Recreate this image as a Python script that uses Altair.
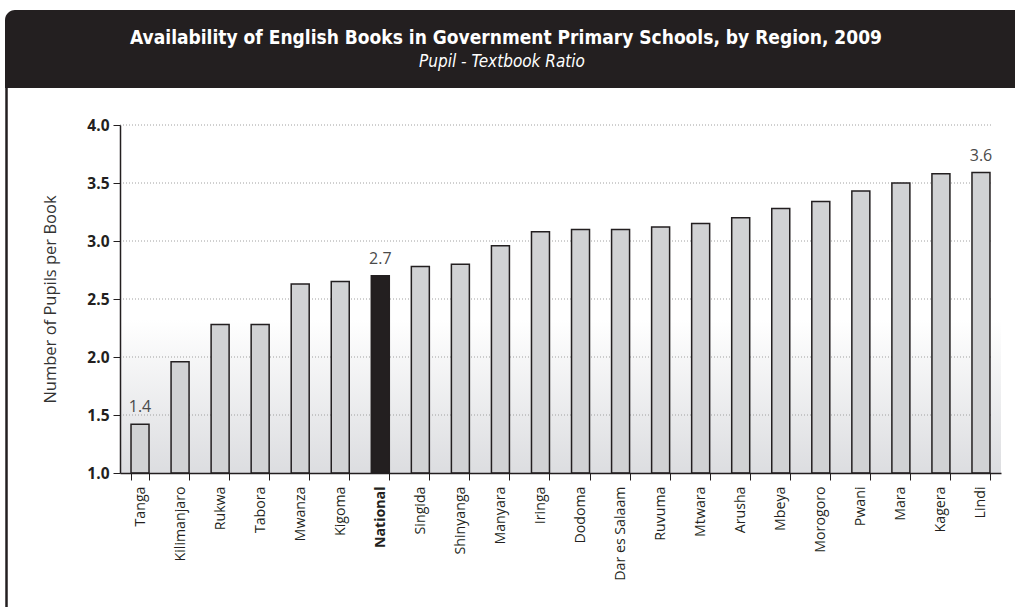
import altair as alt
import pandas as pd

regions = ["Tanga", "Kilimanjaro", "Rukwa", "Tabora", "Mwanza", "Kigoma", "National",
           "Singida", "Shinyanga", "Manyara", "Iringa", "Dodoma", "Dar es Salaam", "Ruvuma",
           "Mtwara", "Arusha", "Mbeya", "Morogoro", "Pwani", "Mara", "Kagera", "Lindi"]
ratios = [1.42, 1.96, 2.28, 2.28, 2.63, 2.65, 2.70, 2.78, 2.80, 2.96, 3.08, 3.10, 3.10,
          3.12, 3.15, 3.20, 3.28, 3.34, 3.43, 3.50, 3.58, 3.59]
value_labels = ["1.4", "", "", "", "", "", "2.7", "", "", "", "", "", "", "", "", "", "",
                "", "", "", "", "3.6"]
y_ticks = [1.0, 1.5, 2.0, 2.5, 3.0, 3.5, 4.0]

title_text = "Availability of English Books in Government Primary Schools, by Region, 2009"
subtitle_text = "Pupil - Textbook Ratio"

W, H = 881, 348
PAD_L, PAD_T, PAD_R, PAD_B = 120, 125, 14, 134

df = pd.DataFrame({
    "region": regions,
    "ratio": ratios,
    "label": value_labels,
    "is_nat": [r == "National" for r in regions],
})
grid_df = pd.DataFrame({"y": y_ticks[1:]})

x_enc = alt.X("region:N", sort=regions, title=None,
              scale=alt.Scale(paddingInner=0.55, paddingOuter=0.275),
              axis=alt.Axis(labelAngle=270, labelAlign="right", labelBaseline="middle",
                            labelFontSize=14.2, labelFont="Open Sans", labelColor="#231f20",
                            labelPadding=6, tickBand="extent", tickSize=7, zindex=1,
                            tickColor="#231f20", domainColor="#231f20", domainWidth=1.5,
                            labelFontWeight=alt.ExprRef(expr="datum.value == 'National' ? 'bold' : 'normal'")))
y_scale = alt.Scale(domain=[1.0, 4.0], zero=False, nice=False)

base = alt.Chart(df)

gradient = base.mark_rect(fill=alt.Gradient(
    gradient="linear", x1=0, x2=0, y1=0, y2=1,
    stops=[alt.GradientStop(offset=0, color="#ffffff"),
           alt.GradientStop(offset=1, color="#dcdde0")])).encode(
    x=alt.value(1), x2=alt.value(W),
    y=alt.datum(2.32, scale=y_scale), y2=alt.datum(1.0),
)

grid = alt.Chart(grid_df).mark_rule(color="#a0a0a0", strokeDash=[1, 2], strokeWidth=1).encode(
    y=alt.Y("y:Q", scale=y_scale), x=alt.value(0), x2=alt.value(W - 8))

bars = base.mark_bar(size=18, stroke="#231f20", strokeWidth=1.5).encode(
    x=x_enc,
    y=alt.Y("ratio:Q", scale=y_scale,
            axis=alt.Axis(values=y_ticks, format=".1f", title="Number of Pupils per Book",
                          grid=False, labelFont="Open Sans", labelFontWeight="bold",
                          labelFontSize=15.5, labelColor="#231f20", labelPadding=4,
                          tickSize=7, tickColor="#231f20", domainColor="#231f20", zindex=1,
                          domainWidth=1.5, titleFont="Open Sans", titleFontSize=16.5,
                          titleFontWeight="normal", titleColor="#333333", titlePadding=28)),
    y2=alt.datum(1.0),
    color=alt.condition("datum.is_nat", alt.value("#231f20"), alt.value("#d1d2d4")),
)

labels = base.transform_filter("datum.label != ''").mark_text(
    baseline="bottom", dy=-9, font="Open Sans", fontSize=16, fill="#4a4a4a").encode(
    x=alt.X("region:N", sort=regions), y=alt.Y("ratio:Q", scale=y_scale), text="label:N",
    color=alt.value("#4a4a4a"))

header_df = pd.DataFrame({"t": [title_text], "s": [subtitle_text]})
header = alt.Chart(header_df).mark_rect(color="#231f20", cornerRadiusTopLeft=10).encode(
    x=alt.value(-115), x2=alt.value(W + PAD_R + 5), y=alt.value(-115), y2=alt.value(-37))
left_border = alt.Chart(header_df).mark_rule(color="#231f20", strokeWidth=2.5).encode(
    x=alt.value(-113.5), y=alt.value(-38), y2=alt.value(H + PAD_B + 5))
title = alt.Chart(header_df).mark_text(
    font="DejaVu Sans Condensed, Liberation Sans Narrow, sans-serif", fontSize=19,
    fontWeight="bold", color="#ffffff", align="center", baseline="middle").encode(
    x=alt.value(386), y=alt.value(-87), text="t:N")
subtitle = alt.Chart(header_df).mark_text(
    font="DejaVu Sans Condensed, Liberation Sans Narrow, sans-serif", fontSize=17,
    fontStyle="italic", color="#ffffff", align="center", baseline="middle").encode(
    x=alt.value(382), y=alt.value(-63), text="s:N")

chart = alt.layer(gradient, grid, bars, labels, header, left_border, title, subtitle).properties(
    width=W, height=H,
    autosize=alt.AutoSizeParams(type="none"),
    padding={"left": PAD_L, "top": PAD_T, "right": PAD_R, "bottom": PAD_B},
    background="#ffffff",
).configure_view(stroke=None)

chart.save("out.html", embed_options={"renderer": "svg", "actions": False})
